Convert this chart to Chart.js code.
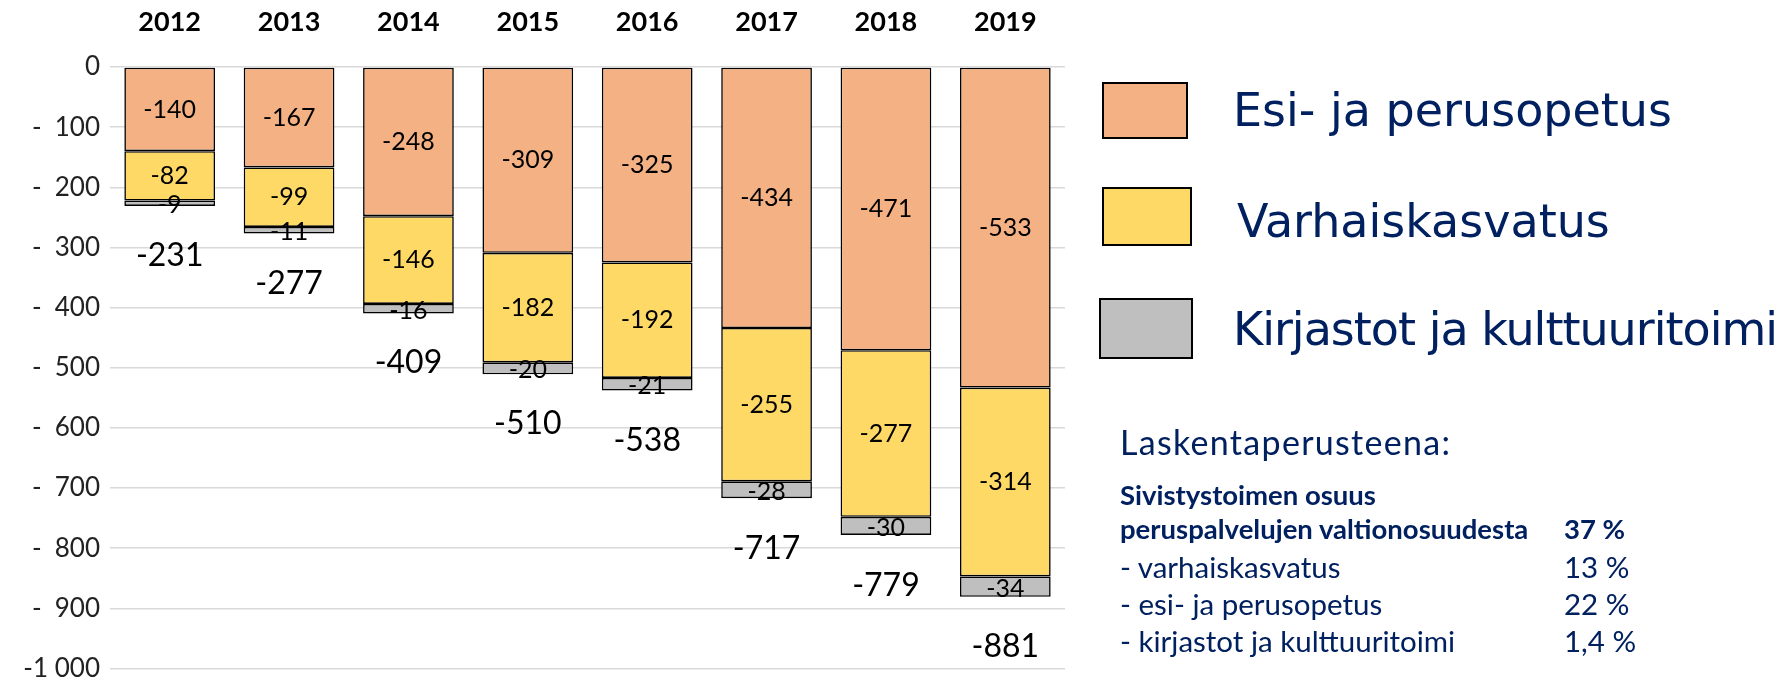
<!DOCTYPE html>
<html>
<head>
<meta charset="utf-8">
<script src="https://cdn.jsdelivr.net/npm/chart.js@4"></script>
<style>
  html, body { margin: 0; padding: 0; background: #fff; }
  #wrap { position: relative; width: 1777px; height: 694px; overflow: hidden; }
  #chart { position: absolute; left: 0; top: 0; }
  .legBox { position: absolute; border: 2px solid #000; box-sizing: border-box; }
  .legText { position: absolute; font-family: "DejaVu Sans", sans-serif; font-size: 46px; color: #002060; line-height: 56px; white-space: nowrap; }
  .info { position: absolute; font-family: Lato, sans-serif; font-size: 29.5px; color: #002060; white-space: nowrap; line-height: 36px; }
  .info.b { font-weight: bold; font-size: 27.5px; }
</style>
</head>
<body>
<div id="wrap">
  <canvas id="chart" width="1777" height="694"></canvas>
  <div id="legend"></div>
  <div class="info" style="left:1120px; top:422px; font-size:34px; letter-spacing:1.3px; line-height:40px;">Laskentaperusteena:</div>
  <div class="info b" style="left:1120px; top:477px;">Sivistystoimen osuus</div>
  <div class="info b" style="left:1120px; top:511px;">peruspalvelujen valtionosuudesta</div>
  <div class="info b" style="left:1564px; top:511px;">37 %</div>
  <div class="info" style="left:1120px; top:549px;">- varhaiskasvatus</div>
  <div class="info" style="left:1564px; top:549px;">13 %</div>
  <div class="info" style="left:1120px; top:586px;">- esi- ja perusopetus</div>
  <div class="info" style="left:1564px; top:586px;">22 %</div>
  <div class="info" style="left:1120px; top:623px;">- kirjastot ja kulttuuritoimi</div>
  <div class="info" style="left:1564px; top:623px;">1,4 %</div>
</div>
<script>
// Data
const years = ['2012', '2013', '2014', '2015', '2016', '2017', '2018', '2019'];
const esiPerusopetus = [-140, -167, -248, -309, -325, -434, -471, -533];
const varhaiskasvatus = [-82, -99, -146, -182, -192, -255, -277, -314];
const kirjastot = [-9, -11, -16, -20, -21, -28, -30, -34];
const totals = [-231, -277, -409, -510, -538, -717, -779, -881];

const seriesNames = ['Esi- ja perusopetus', 'Varhaiskasvatus', 'Kirjastot ja kulttuuritoimi'];
const seriesColors = ['#F4B183', '#FFD966', '#BFBFBF'];

// HTML legend built from the series
const legendBoxes = [
    { left: 1102, top: 82, w: 86, h: 57 },
    { left: 1102, top: 187, w: 90, h: 59 },
    { left: 1099, top: 298, w: 94, h: 61 }
];
const legendTextCenters = [110, 221, 329];
const legend = document.getElementById('legend');
seriesNames.forEach((name, i) => {
    const b = legendBoxes[i];
    const box = document.createElement('div');
    box.className = 'legBox';
    box.style.left = b.left + 'px';
    box.style.top = b.top + 'px';
    box.style.width = b.w + 'px';
    box.style.height = b.h + 'px';
    box.style.background = seriesColors[i];
    legend.appendChild(box);
    const txt = document.createElement('div');
    txt.className = 'legText';
    txt.style.left = (i === 1 ? 1237 : 1233) + 'px';
    txt.style.top = (legendTextCenters[i] - 28) + 'px';
    if (i === 2) txt.style.letterSpacing = '-1px';
    txt.textContent = name;
    legend.appendChild(txt);
});

// Draws the segment values and the totals under each bar
const labelPlugin = {
    id: 'labels',
    afterDatasetsDraw(chart) {
        const ctx = chart.ctx;
        ctx.save();
        ctx.textAlign = 'center';
        ctx.textBaseline = 'middle';
        ctx.fillStyle = '#000';
        ctx.font = '25px Lato, sans-serif';
        chart.data.datasets.forEach((ds, di) => {
            chart.getDatasetMeta(di).data.forEach((bar, i) => {
                const y = (bar.y + bar.base) / 2;
                ctx.fillText(String(ds.data[i]), bar.x, y + (di === 2 ? 2 : 0));
            });
        });
        const yScale = chart.scales.y;
        ctx.font = '32px Lato, sans-serif';
        const meta = chart.getDatasetMeta(0);
        totals.forEach((t, i) => {
            ctx.fillText(String(t), meta.data[i].x, yScale.getPixelForValue(t) + 50);
        });
        ctx.restore();
    }
};

const ctx = document.getElementById('chart').getContext('2d');
new Chart(ctx, {
    type: 'bar',
    data: {
        labels: years,
        datasets: [esiPerusopetus, varhaiskasvatus, kirjastot].map((values, i) => ({
            label: seriesNames[i],
            data: values,
            backgroundColor: seriesColors[i],
            borderColor: '#000',
            borderWidth: 1.6,
            borderSkipped: false,
            barPercentage: 0.76,
            categoryPercentage: 1
        }))
    },
    options: {
        responsive: false,
        animation: false,
        layout: { padding: { left: 0, top: 0, right: 712, bottom: 12 } },
        plugins: {
            legend: { display: false },
            tooltip: { enabled: false }
        },
        scales: {
            x: {
                position: 'top',
                stacked: true,
                grid: { display: false, drawTicks: false },
                border: { display: false },
                ticks: {
                    padding: 29,
                    color: '#000',
                    font: { family: 'Lato', size: 27, weight: 'bold' }
                },
                afterFit: (scale) => { scale.height = 67; }
            },
            y: {
                stacked: true,
                min: -1000,
                max: 0,
                grid: { color: '#D9D9D9', lineWidth: 1.5, drawTicks: false },
                border: { display: false },
                ticks: {
                    stepSize: 100,
                    padding: 10,
                    color: '#222',
                    font: { family: 'Lato', size: 26 },
                    callback: (v) => v === 0 ? '0' : (v === -1000 ? '-1 000' : '-\u2002' + Math.abs(v))
                },
                afterFit: (scale) => { scale.width = 110; }
            }
        }
    },
    plugins: [labelPlugin]
});
</script>
</body>
</html>
